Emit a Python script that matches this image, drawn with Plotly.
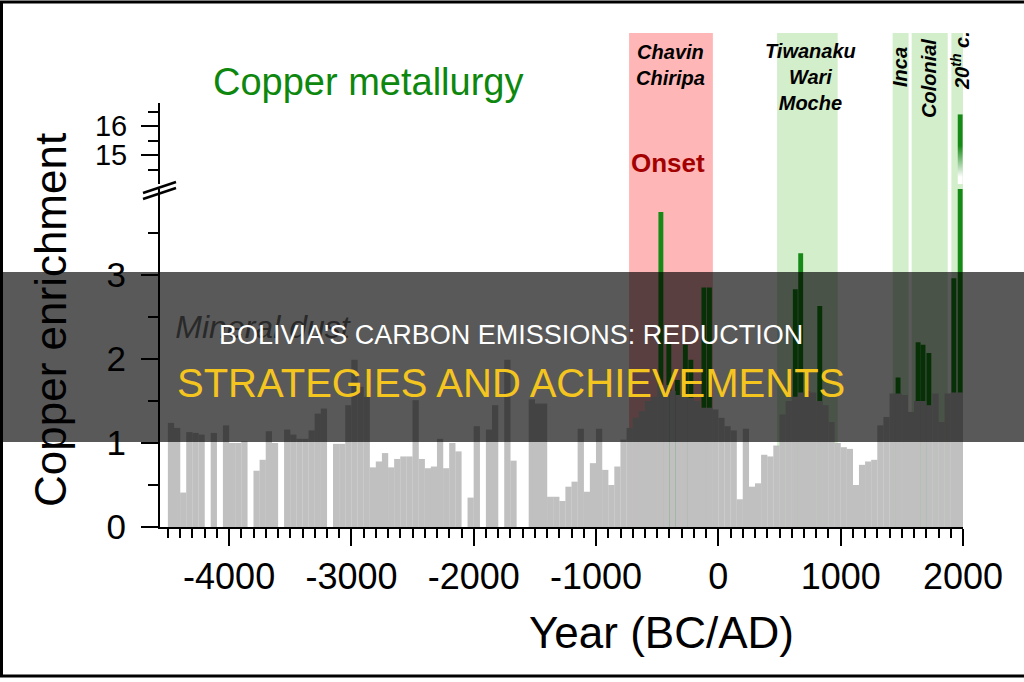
import plotly.graph_objects as go

# ---------------- data ----------------
# 50-year bins (centre years) from -4500 to 2000
bin_years = list(range(-4475, 2000, 50))
gray_vals = [
    1.24, 1.18, 0.41, 1.13, 1.12, 1.10, 0.00, 1.12, 0.00, 1.21,
    1.00, 1.00, 1.02, 0.00, 0.67, 0.80, 1.14, 1.00, 0.00, 1.16,
    1.10, 1.05, 1.05, 1.15, 1.35, 1.41, 0.00, 0.99, 0.99, 1.45,
    1.99, 1.67, 1.55, 0.71, 0.78, 0.88, 0.71, 0.81, 0.84, 0.84,
    1.51, 0.81, 0.70, 0.72, 1.05, 0.70, 1.00, 0.90, 0.00, 0.35,
    1.20, 0.00, 1.16, 1.45, 0.00, 1.99, 0.79, 0.00, 0.00, 1.52,
    1.47, 1.47, 0.36, 0.36, 0.31, 0.48, 0.54, 1.17, 0.42, 0.76,
    1.17, 0.68, 0.50, 0.72, 1.04, 1.18, 1.30, 1.38, 1.50, 1.55,
    1.69, 1.69, 1.62, 1.57, 1.57, 1.54, 1.50, 1.42, 1.42, 1.40,
    1.30, 1.20, 1.15, 0.33, 1.17, 0.48, 0.52, 0.86, 0.84, 0.97,
    1.34, 1.50, 1.55, 1.60, 1.62, 1.60, 1.50, 1.45, 1.25, 1.00,
    0.95, 0.93, 0.50, 0.74, 0.78, 0.80, 1.21, 1.31, 1.59, 1.59,
    1.57, 1.37, 1.50, 1.50, 1.45, 1.59, 1.25, 1.59, 1.60, 1.60,
]
green_years = [-470, -405, -335, -270, -225, -118, -73, 629, 673, 829,
               1469, 1633, 1673, 1721, 1925, 1977]
green_vals = [3.75, 2.20, 1.75, 2.17, 1.99, 2.85, 2.85, 2.83, 3.26, 2.63,
              1.78, 2.20, 2.17, 2.07, 2.96, 16.4]

band_labels = ["Chavin<br>Chiripa", "Tiwanaku<br>Wari<br>Moche", "Inca", "Colonial", "20<sup>th</sup> c."]
band_start = [-730, 480, 1425, 1580, 1905]
band_end = [-45, 975, 1555, 1875, 2045]

x_tickvals = [-4000, -3000, -2000, -1000, 0, 1000, 2000]
x_ticktext = ["-4000", "-3000", "-2000", "-1000", "0", "1000", "2000"]
y_low_ticks = [0, 1, 2, 3]
y_low_minor = [0.5, 1.5, 2.5, 3.5]
y_up_ticks = [15, 16]
y_up_minor = [14.5, 15.5, 16.5]

# ---------------- layout geometry ----------------
W, H = 1024, 682
ML, MR, MT, MB = 160, 61, 103, 155
PW = W - ML - MR
PH = H - MT - MB
Y0PIX = H - MB


def px(xp):
    return (xp - ML) / PW


def py(yp):
    return (Y0PIX - yp) / PH


FONT = "Liberation Sans, Arial, sans-serif"
GRAY = "#c0c0c0"
GREEN = "#168a16"
RED_BAND = "#ffb6b6"
GREEN_BAND = "#d3eecb"

low_top_pix, up_bot_pix = 189, 184
low_range = [0, (Y0PIX - low_top_pix) / 84.0]
up_range = [15 - (up_bot_pix - 155) / 29.0, 16 + (126 - MT) / 29.0]

fig = go.Figure()

# green copper spikes sit behind the grey background bars
fig.add_trace(go.Bar(x=green_years, y=green_vals, width=40, marker=dict(color=GREEN, line=dict(width=0)),
                     xaxis="x", yaxis="y", hoverinfo="skip"))
fig.add_trace(go.Bar(x=bin_years, y=gray_vals, width=51.5, marker=dict(color=GRAY, line=dict(width=0)),
                     xaxis="x", yaxis="y", hoverinfo="skip"))

# upper panel: bars exceeding the break, with a fading fill
for yr, v in zip(green_years, green_vals):
    if v > up_range[0]:
        fig.add_trace(go.Scatter(
            x=[yr - 20, yr - 20, yr + 20, yr + 20, yr - 20],
            y=[up_range[0], v, v, up_range[0], up_range[0]],
            mode="lines", line=dict(width=0), fill="toself",
            fillgradient=dict(type="vertical",
                              colorscale=[[0, "#ffffff"], [0.1, "#ffffff"], [0.55, GREEN], [1, GREEN]]),
            xaxis="x", yaxis="y2", hoverinfo="skip"))

# label under the banner
fig.add_trace(go.Scatter(x=[-3727], y=[2.35], mode="text", text=["Mineral dust"],
                         textfont=dict(size=32, color="#777777", family=FONT, style="italic"),
                         xaxis="x", yaxis="y", cliponaxis=False, hoverinfo="skip"))

shapes = []
for i, (a, b) in enumerate(zip(band_start, band_end)):
    shapes.append(dict(type="rect", xref="x", yref="paper", x0=a, x1=b, y0=0, y1=py(33),
                       fillcolor=RED_BAND if i == 0 else GREEN_BAND, line=dict(width=0), layer="below"))

# banner
shapes.append(dict(type="rect", xref="paper", yref="paper", x0=px(-5), x1=px(W + 5), y0=py(442), y1=py(272),
                   fillcolor="rgba(0,0,0,0.65)", line=dict(width=0), layer="above"))
# frame
shapes.append(dict(type="rect", xref="paper", yref="paper", x0=px(1.5), x1=px(W + 20), y0=py(676), y1=py(2),
                   line=dict(color="black", width=3), fillcolor="rgba(0,0,0,0)", layer="above"))
# axis break marks
for dy in (0, 6):
    shapes.append(dict(type="line", xref="paper", yref="paper", x0=px(143), y0=py(193 + dy),
                       x1=px(176), y1=py(182 + dy), line=dict(color="black", width=2.5), layer="above"))

annotations = []


def ann(text, xp, yp, size, color="black", angle=0, bold=False, italic=False):
    annotations.append(dict(text=text, x=px(xp), y=py(yp), xref="paper", yref="paper", showarrow=False,
                            xanchor="center", yanchor="middle", textangle=angle,
                            font=dict(size=size, color=color, family=FONT,
                                      weight="bold" if bold else "normal",
                                      style="italic" if italic else "normal")))


ann("Copper metallurgy", 368, 82, 38, color="#0d870d")
ann(band_labels[0], 670, 65, 20, bold=True, italic=True)
ann(band_labels[1], 810, 77, 20, bold=True, italic=True)
ann(band_labels[2], 900, 67, 20, angle=-90, bold=True, italic=True)
ann(band_labels[3], 929, 79, 20, angle=-90, bold=True, italic=True)
ann(band_labels[4], 961, 61, 20, angle=-90, bold=True, italic=True)
ann("Onset", 668, 163, 26, color="#a30000", bold=True)
ann("Copper enrichment", 50, 320, 44, angle=-90)
ann("Year (BC/AD)", 661, 632, 44)
ann("BOLIVIA'S CARBON EMISSIONS: REDUCTION", 511, 335, 27, color="#ffffff")
ann("STRATEGIES AND ACHIEVEMENTS", 511, 383, 40, color="#f5c51f")

axis_common = dict(showline=True, linecolor="black", linewidth=2, ticks="outside", ticklen=17,
                   tickwidth=2, tickcolor="black", showgrid=False, zeroline=False,
                   tickfont=dict(size=36, color="black", family=FONT))

fig.update_layout(
    width=W, height=H,
    margin=dict(l=ML, r=MR, t=MT, b=MB, pad=0),
    paper_bgcolor="white", plot_bgcolor="rgba(0,0,0,0)",
    barmode="overlay", showlegend=False,
    font=dict(family=FONT),
    xaxis=dict(range=[-4565, 2000], tickmode="array", tickvals=x_tickvals, ticktext=x_ticktext, anchor="y",
               minor=dict(ticks="outside", ticklen=9, tickwidth=2, tickcolor="black", dtick=100, tick0=0),
               **axis_common),
    yaxis=dict(domain=[0, py(low_top_pix)], range=low_range, tickmode="array", tickvals=y_low_ticks,
               minor=dict(ticks="outside", ticklen=10, tickwidth=2, tickcolor="black",
                          tickmode="array", tickvals=y_low_minor),
               anchor="x", ticklabelstandoff=8,
               **{**axis_common, "tickfont": dict(size=35, color="black", family=FONT)}),
    yaxis2=dict(domain=[py(up_bot_pix), 1], range=up_range, tickmode="array", tickvals=y_up_ticks,
                minor=dict(ticks="outside", ticklen=10, tickwidth=2, tickcolor="black",
                           tickmode="array", tickvals=y_up_minor),
                anchor="x", ticklabelstandoff=8,
                **{**axis_common, "tickfont": dict(size=29, color="black", family=FONT)}),
    shapes=shapes,
    annotations=annotations,
)

fig.write_html("out.html")
